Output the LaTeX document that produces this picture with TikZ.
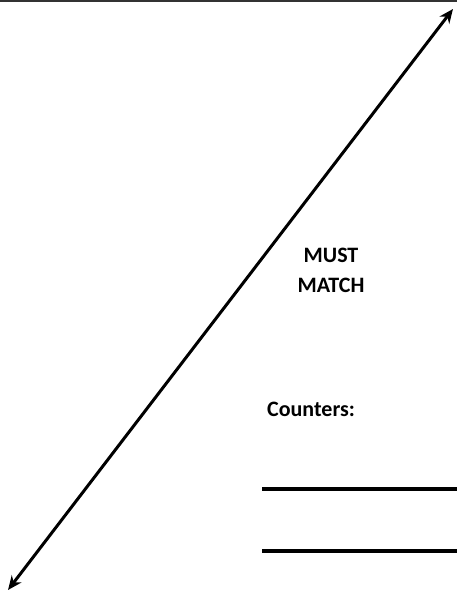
\documentclass[tikz,border=0pt]{standalone}
\usepackage{fontspec}
\setmainfont{Carlito}
\usetikzlibrary{arrows.meta}
\tikzset{
  lbl/.style={font=\bfseries\fontsize{22}{30}\selectfont, text=black, inner sep=0pt},
  rule/.style={line width=3.5pt, black},
  diag/.style={line width=3pt, black, {Stealth[length=14pt,width=12pt]}-{Stealth[length=14pt,width=12pt]}}
}
\begin{document}
\begin{tikzpicture}[x=1pt,y=-1pt]
\useasboundingbox (0,0) rectangle (457,592);
\fill[white] (0,0) rectangle (457,592);
% top border
\coordinate (tl) at (0,1);
\coordinate (tr) at (457,1);
\draw[line width=2pt, black!80] (tl) -- (tr);
% diagonal double arrow
\coordinate (ll) at (8,590);
\coordinate (ur) at (453,9);
\draw[diag] (ll) -- (ur);
% labels
\node[lbl, anchor=base, align=center] (must) at (331,262) {MUST};
\node[lbl, anchor=base, align=center] (match) at (331,292) {MATCH};
\node[lbl, anchor=base west] (counters) at (267,416) {Counters:};
% answer lines
\coordinate (a1) at (262,489);
\coordinate (a2) at (457,489);
\coordinate (b1) at (262,551);
\coordinate (b2) at (457,551);
\draw[rule] (a1) -- (a2);
\draw[rule] (b1) -- (b2);
\end{tikzpicture}
\end{document}
